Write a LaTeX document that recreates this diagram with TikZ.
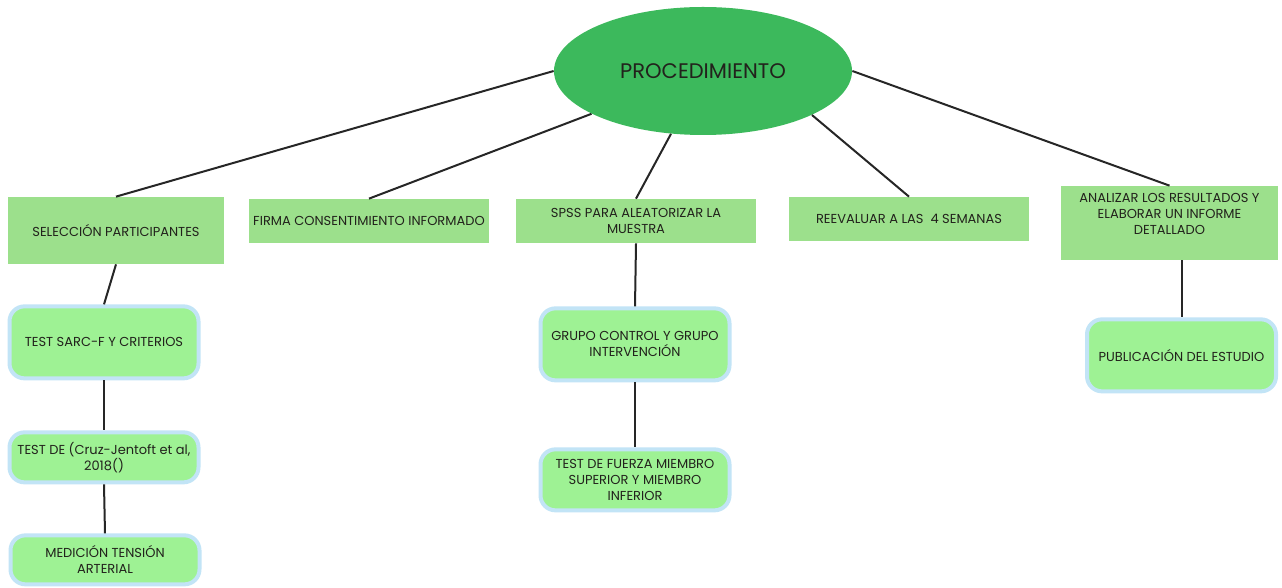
\documentclass[tikz,border=0pt]{standalone}
\usepackage{fontspec}
\setmainfont{Poppins}
\usetikzlibrary{positioning,shapes.geometric}
\definecolor{procgreen}{HTML}{3CB95C}
\definecolor{boxgreen}{HTML}{9CE08C}
\definecolor{leafgreen}{HTML}{9EF294}
\definecolor{leafblue}{HTML}{C2E4F6}
\definecolor{txtgray}{HTML}{22221C}
\tikzstyle{proc}=[ellipse,fill=procgreen,minimum width=5.96cm,minimum height=2.56cm,
text=txtgray,font=\fontsize{12}{14}\selectfont]
\tikzstyle{stage}=[rectangle,fill=boxgreen,minimum width=4.8cm,minimum height=0.88cm,
inner sep=2pt,align=center,text=txtgray,font=\fontsize{7.4}{9}\selectfont]
\tikzstyle{leaf}=[rectangle,rounded corners=0.3cm,draw=leafblue,line width=0.08cm,
fill=leafgreen,minimum width=3.78cm,inner sep=2pt,align=center,text=txtgray,
font=\fontsize{7.4}{9}\selectfont]
\tikzstyle{link}=[line width=0.04cm,draw=black!85]

\begin{document}
\begin{tikzpicture}
\useasboundingbox (0,0) rectangle (25.64,-11.76);
			% centre and first row
			\node[proc] (proc) at (14.06,-1.42) {PROCEDIMIENTO};
			\node[stage,minimum width=4.32cm,minimum height=1.34cm] (sel) at (2.32,-4.61) {SELECCIÓN PARTICIPANTES};
			\node[stage] (firma) at (7.38,-4.42) {FIRMA CONSENTIMIENTO INFORMADO};
			\node[stage] (spss) at (12.72,-4.42) {SPSS PARA ALEATORIZAR LA\\MUESTRA};
			\node[stage] (reev) at (18.18,-4.38) {REEVALUAR A LAS \ 4 SEMANAS};
			\node[stage,minimum width=4.34cm,minimum height=1.48cm,text depth=0.37cm] (anal) at (23.39,-4.46) {ANALIZAR LOS RESULTADOS Y\\ELABORAR UN INFORME\\DETALLADO};

			\draw[link] (proc.180) -- (sel.north);
			\draw[link] (proc.201) -- (firma.north);
			\draw[link] (proc.243) -- (spss.north);
			\draw[link] (proc.338) -- (reev.north);
			\draw[link] (proc.0) -- (anal.north);

			% selection branch
			\node[leaf,minimum height=1.44cm,below=0.8cm of sel,xshift=-0.24cm] (sarc) {TEST SARC-F Y CRITERIOS};
			\node[leaf,minimum height=1.0cm,below=1.0cm of sarc] (testde) {TEST DE (Cruz-Jentoft et al,\\2018()};
			\node[leaf,minimum height=0.98cm,below=0.98cm of testde,xshift=0.02cm] (med) {MEDICIÓN TENSIÓN\\ARTERIAL};

			\draw[link] (sel.south) -- (sarc.north);
			\draw[link] (sarc.south) -- (testde.north);
			\draw[link] (testde.south) -- (med.north);

			% sample branch
			\node[leaf,minimum height=1.44cm,below=1.26cm of spss,xshift=-0.02cm] (grupo) {GRUPO CONTROL Y GRUPO\\INTERVENCIÓN};
			\node[leaf,minimum height=1.22cm,below=1.3cm of grupo] (fuerza) {TEST DE FUERZA MIEMBRO\\SUPERIOR Y MIEMBRO\\INFERIOR};

			\draw[link] (spss.south) -- (grupo.north);
			\draw[link] (grupo.south) -- (fuerza.north);

			% report branch
			\node[leaf,minimum height=1.44cm,below=1.14cm of anal,xshift=0.24cm] (pub) {PUBLICACIÓN DEL ESTUDIO};

			\draw[link] (anal.south -| pub.north) -- (pub.north);
\end{tikzpicture}
\end{document}
